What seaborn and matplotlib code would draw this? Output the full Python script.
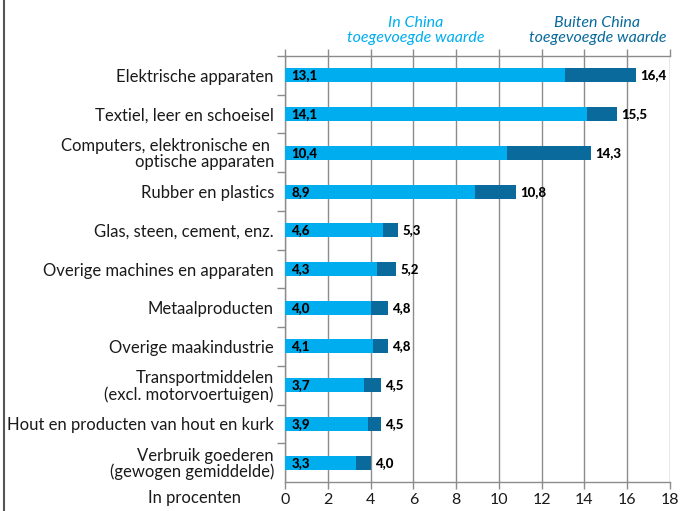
import matplotlib
matplotlib.use("Agg")
import matplotlib.pyplot as plt
from matplotlib.lines import Line2D
import numpy as np
import pandas as pd
import seaborn as sns

# data: toegevoegde waarde in procenten
categories = [
    "Elektrische apparaten",
    "Textiel, leer en schoeisel",
    "Computers, elektronische en \noptische apparaten",
    "Rubber en plastics",
    "Glas, steen, cement, enz.",
    "Overige machines en apparaten",
    "Metaalproducten",
    "Overige maakindustrie",
    "Transportmiddelen\n(excl. motorvoertuigen)",
    "Hout en producten van hout en kurk",
    "Verbruik goederen\n(gewogen gemiddelde)",
]
in_china = [13.1, 14.1, 10.4, 8.9, 4.6, 4.3, 4.0, 4.1, 3.7, 3.9, 3.3]
totaal = [16.4, 15.5, 14.3, 10.8, 5.3, 5.2, 4.8, 4.8, 4.5, 4.5, 4.0]
x_ticks = [0, 2, 4, 6, 8, 10, 12, 14, 16, 18]

df = pd.DataFrame({"sector": categories, "china": in_china, "totaal": totaal})

LICHT = "#00adef"
DONKER = "#0a6a9c"
GRID = "#8c8c8c"

sns.set_theme(style="white")
plt.rcParams["font.family"] = ["Lato", "DejaVu Sans"]

fig = plt.figure(figsize=(6.8, 5.11), dpi=100)
ax = fig.add_axes([285 / 680, 1 - 482 / 511, 385 / 680, 426 / 511])

# totaal (buiten China bovenop) eerst, daarna het China-deel eroverheen
sns.barplot(data=df, y="sector", x="totaal", color=DONKER, width=0.36,
            orient="h", saturation=1, linewidth=0, ax=ax, zorder=3)
sns.barplot(data=df, y="sector", x="china", color=LICHT, width=0.36,
            orient="h", saturation=1, linewidth=0, ax=ax, zorder=3)

ax.set_xlim(0, 18)
ax.set_ylim(len(categories) - 0.5, -0.5)
ax.set_xticks(x_ticks)
ax.set_xticklabels([str(t) for t in x_ticks], fontsize=11.5)
ax.set_xlabel("")
ax.set_ylabel("")
ax.set_yticks(range(len(categories)))
ax.set_yticklabels(categories, fontsize=12, color="#1a1a1a", linespacing=1.0)
ax.set_yticks(np.arange(-0.5, len(categories) - 0.5, 1), minor=True)

ax.grid(axis="x", color=GRID, linewidth=1, zorder=0)
for s in ["left", "top", "bottom"]:
    ax.spines[s].set_color(GRID)
    ax.spines[s].set_linewidth(1)
ax.spines["right"].set_visible(False)

ax.tick_params(axis="y", which="major", length=0, pad=8)
ax.tick_params(axis="y", which="minor", left=True, length=6, color=GRID, width=1)
ax.tick_params(axis="x", bottom=True, top=True, length=5, color=GRID, width=1,
               pad=3, labelcolor="#1a1a1a")

for i, (c, t) in enumerate(zip(in_china, totaal)):
    ax.text(0.3, i, f"{c:.1f}".replace(".", ","), va="center", ha="left",
            fontsize=9.5, fontweight="black", color="black", zorder=4)
    ax.text(t + 0.2, i, f"{t:.1f}".replace(".", ","), va="center", ha="left",
            fontsize=9.5, fontweight="black", color="black", zorder=4)

ax.text(6.1, 1.06, "In China\ntoegevoegde waarde", transform=ax.get_xaxis_transform(),
        ha="center", va="center", fontsize=11.5, style="italic", color=LICHT,
        linespacing=1.15)
ax.text(14.6, 1.06, "Buiten China\ntoegevoegde waarde", transform=ax.get_xaxis_transform(),
        ha="center", va="center", fontsize=11.5, style="italic", color=DONKER,
        linespacing=1.15)

fig.text(195 / 680, 1 - 498 / 511, "In procenten", ha="center", va="center",
         fontsize=12, color="#1a1a1a")

# rand links van het kader
fig.add_artist(Line2D([3.5 / 680, 3.5 / 680], [0, 1], color="#555555", linewidth=1.5))

fig.savefig("out.png", dpi=100)
